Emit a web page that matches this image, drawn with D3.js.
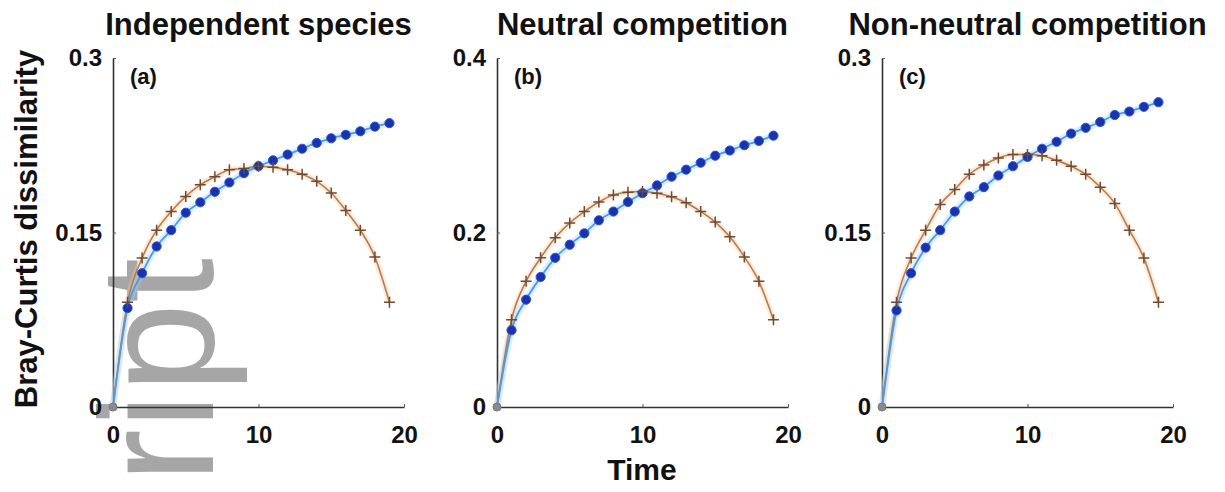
<!DOCTYPE html>
<html>
<head>
<meta charset="utf-8">
<script src="https://cdn.jsdelivr.net/npm/d3@7"></script>
<style>
  body { margin: 0; background: #fff; }
  text { font-family: Arial, "Liberation Sans", sans-serif; }
</style>
</head>
<body>
<div id="chart"></div>
<script>
// time steps
let time = [0, 1, 2, 3, 4, 5, 6, 7, 8, 9, 10, 11, 12, 13, 14, 15, 16, 17, 18, 19];

let titles = ["Independent species", "Neutral competition", "Non-neutral competition"];
let panelLabels = ["(a)", "(b)", "(c)"];
let yMax = [0.3, 0.4, 0.3];
let yTicks = [[0, 0.15, 0.3], [0, 0.2, 0.4], [0, 0.15, 0.3]];
let xTicks = [0, 10, 20];

// blue dots
let blueA = [0, 0.085, 0.115, 0.138, 0.152, 0.167, 0.176, 0.185, 0.193, 0.201, 0.207, 0.212, 0.217, 0.222, 0.227, 0.231, 0.234, 0.237, 0.241, 0.244];
let blueB = [0, 0.088, 0.123, 0.149, 0.171, 0.186, 0.199, 0.214, 0.224, 0.235, 0.245, 0.254, 0.264, 0.272, 0.280, 0.288, 0.294, 0.300, 0.305, 0.311];
let blueC = [0, 0.083, 0.115, 0.137, 0.152, 0.168, 0.181, 0.189, 0.199, 0.207, 0.215, 0.222, 0.228, 0.235, 0.240, 0.245, 0.251, 0.254, 0.258, 0.262];

// orange crosses
let orangeA = [0, 0.090, 0.128, 0.152, 0.168, 0.181, 0.191, 0.198, 0.204, 0.205, 0.207, 0.206, 0.204, 0.200, 0.194, 0.184, 0.169, 0.152, 0.129, 0.090];
let orangeB = [0, 0.100, 0.144, 0.171, 0.194, 0.211, 0.224, 0.235, 0.243, 0.246, 0.247, 0.245, 0.241, 0.234, 0.224, 0.212, 0.195, 0.172, 0.144, 0.100];
let orangeC = [0, 0.090, 0.128, 0.152, 0.174, 0.187, 0.200, 0.208, 0.214, 0.217, 0.217, 0.216, 0.212, 0.207, 0.200, 0.189, 0.175, 0.152, 0.128, 0.090];

let blues = [blueA, blueB, blueC];
let oranges = [orangeA, orangeB, orangeC];

let width = 1225;
let height = 492;
let panelLeft = [113, 497, 882];
let panelW = 291;
let plotTop = 58, plotBottom = 407;

let svg = d3.select("#chart").append("svg")
  .attr("width", width)
  .attr("height", height);

// grey watermark behind everything
svg.append("text")
  .attr("transform", "translate(213,483) rotate(-90)")
  .attr("font-size", 162)
  .attr("fill", "#a6a6a6")
  .text("ript");

svg.append("text")
  .attr("transform", "translate(37,229) rotate(-90)")
  .attr("text-anchor", "middle")
  .attr("font-size", 31)
  .attr("font-weight", "bold")
  .attr("fill", "#111")
  .text("Bray-Curtis dissimilarity");

svg.append("text")
  .attr("x", 642)
  .attr("y", 480)
  .attr("text-anchor", "middle")
  .attr("font-size", 30)
  .attr("font-weight", "bold")
  .attr("fill", "#111")
  .text("Time");

titles.forEach((title, i) => {
  let x = d3.scaleLinear().domain([0, 20]).range([panelLeft[i], panelLeft[i] + panelW]);
  let y = d3.scaleLinear().domain([0, yMax[i]]).range([plotBottom, plotTop]);

  let g = svg.append("g");

  g.append("text")
    .attr("x", (x.range()[0] + x.range()[1]) / 2)
    .attr("y", 35)
    .attr("text-anchor", "middle")
    .attr("font-size", 31)
    .attr("font-weight", "bold")
    .attr("fill", "#111")
    .text(title);

  let yAxis = g.append("g")
    .attr("transform", "translate(" + x(0) + ",0)")
    .call(d3.axisLeft(y).tickValues(yTicks[i]).tickSize(-3).tickSizeOuter(0).tickPadding(11)
      .tickFormat(d => d === 0 ? "0" : String(d)));

  let xAxis = g.append("g")
    .attr("transform", "translate(0," + y(0) + ")")
    .call(d3.axisBottom(x).tickValues(xTicks).tickSize(-3).tickSizeOuter(0).tickPadding(19));

  [yAxis, xAxis].forEach(a => {
    a.select(".domain").attr("stroke", "#333").attr("stroke-width", 1.6);
    a.selectAll(".tick line").attr("stroke", "#555");
    a.selectAll("text")
      .attr("font-size", 24)
      .attr("font-weight", "bold")
      .attr("fill", "#111")
      .style("font-family", "Arial, 'Liberation Sans', sans-serif");
  });

  g.append("text")
    .attr("x", x(0) + 17)
    .attr("y", 84)
    .attr("font-size", 22)
    .attr("font-weight", "bold")
    .attr("fill", "#111")
    .text(panelLabels[i]);

  let blueData = time.map((t, k) => ({t: t, v: blues[i][k]}));
  let orangeData = time.map((t, k) => ({t: t, v: oranges[i][k]}));

  let line = d3.line()
    .x(d => x(d.t))
    .y(d => y(d.v))
    .curve(d3.curveMonotoneX);

  // soft halos like the blurry original
  g.append("path").datum(orangeData)
    .attr("d", line).attr("fill", "none")
    .attr("stroke", "#f6c89a").attr("stroke-width", 6).attr("stroke-opacity", 0.35);
  g.append("path").datum(blueData)
    .attr("d", line).attr("fill", "none")
    .attr("stroke", "#9fd0ff").attr("stroke-width", 7).attr("stroke-opacity", 0.35);

  g.append("path").datum(orangeData)
    .attr("d", line).attr("fill", "none")
    .attr("stroke", "#b87a4e").attr("stroke-width", 1.6);
  g.append("path").datum(blueData)
    .attr("d", line).attr("fill", "none")
    .attr("stroke", "#4a9ae8").attr("stroke-width", 1.8);

  g.selectAll(".dot")
    .data(blueData.slice(1))
    .enter()
    .append("circle")
    .attr("cx", d => x(d.t))
    .attr("cy", d => y(d.v))
    .attr("r", 4.6)
    .attr("fill", "#1a33ac")
    .attr("stroke", "#2a56e0")
    .attr("stroke-width", 1);

  g.selectAll(".cross")
    .data(orangeData.slice(1))
    .enter()
    .append("path")
    .attr("d", d => {
      let cx = x(d.t), cy = y(d.v), s = 5.5;
      return "M" + (cx - s) + "," + cy + "H" + (cx + s) + "M" + cx + "," + (cy - s) + "V" + (cy + s);
    })
    .attr("stroke", "#6e4a32")
    .attr("stroke-width", 1.5);

  // shared starting point at the origin
  g.append("circle")
    .attr("cx", x(0))
    .attr("cy", y(0))
    .attr("r", 4)
    .attr("fill", "#8a8a8a")
    .attr("stroke", "#777");
});
</script>
</body>
</html>
